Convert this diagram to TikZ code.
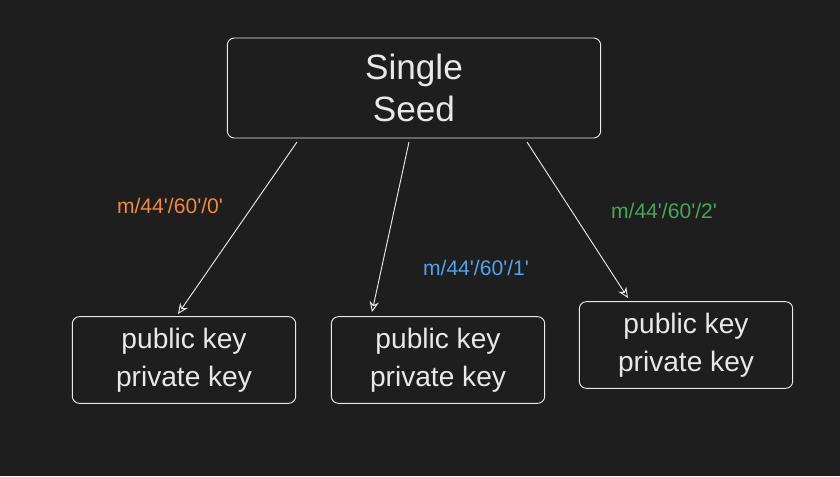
\documentclass[tikz,border=0pt]{standalone}
\usepackage{fontspec}
\setmainfont{Liberation Sans}
\usetikzlibrary{positioning,arrows.meta}
\definecolor{bg}{HTML}{1E1E1E}
\definecolor{ink}{HTML}{E8E8E8}
\definecolor{lorange}{HTML}{F08A3C}
\definecolor{lblue}{HTML}{4DA3F0}
\definecolor{lgreen}{HTML}{40A856}
\newcommand{\q}{\textquotesingle}
\tikzset{
	box/.style   = {draw=ink, thick, rounded corners=6pt, text=ink, align=center},
	keybox/.style = {box, minimum width=6.6cm, minimum height=2.6cm, font=\fontsize{24}{32}\selectfont},
	path/.style  = {font=\fontsize{18}{20}\selectfont},
	link/.style  = {draw=ink, thick, -{Stealth[open,length=9pt,width=8pt]}}
}
\begin{document}
\begin{tikzpicture}[x=0.03cm, y=-0.03cm]
	\fill[bg] (0,0) rectangle (840,476);
	\useasboundingbox (0,0) rectangle (840,476);

	% seed and keys
	\node[box, minimum width=11.2cm, minimum height=3cm, font=\fontsize{30}{36}\selectfont] (seed) at (414,88) {Single\\Seed};
	\node[keybox, minimum width=6.7cm] (k0) at (184,360) {public key\\private key};
	\node[keybox, minimum width=6.4cm] (k1) at (438,360) {public key\\private key};
	\node[keybox, minimum width=6.4cm] (k2) at (686,345) {public key\\private key};

	% derivation paths
	\coordinate (s0) at (297,142); \coordinate (e0) at (178,314);
	\coordinate (s1) at (409,142); \coordinate (e1) at (372,312);
	\coordinate (s2) at (527,142); \coordinate (e2) at (628,298);
	\draw[link] (s0) -- (e0);
	\draw[link] (s1) -- (e1);
	\draw[link] (s2) -- (e2);

	\node[path, text=lorange] (p0) at (170,206) {m/44\q/60\q/0\q};
	\node[path, text=lblue] (p1) at (476,268) {m/44\q/60\q/1\q};
	\node[path, text=lgreen] (p2) at (664,211) {m/44\q/60\q/2\q};
\end{tikzpicture}
\end{document}
